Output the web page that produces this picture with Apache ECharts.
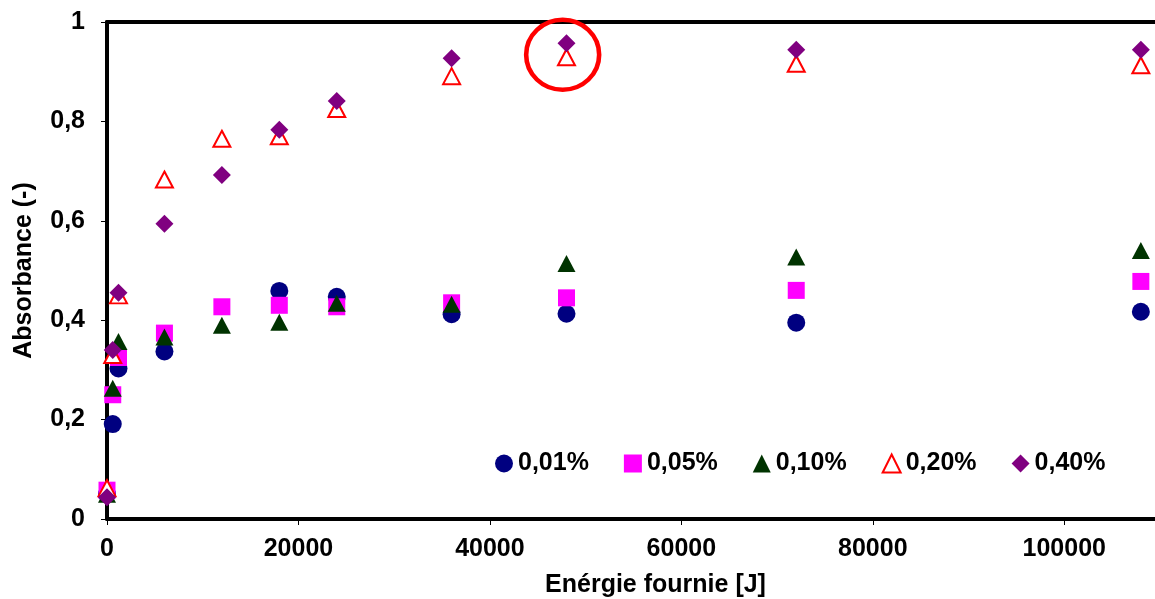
<!DOCTYPE html>
<html>
<head>
<meta charset="utf-8">
<script src="https://cdn.jsdelivr.net/npm/echarts@6/dist/echarts.min.js"></script>
<style>
html,body{margin:0;padding:0;background:#fff;}
#chart{width:1155px;height:599px;}
</style>
</head>
<body>
<div id="chart"></div>
<script>
// Data
const seriesNames = ['0,01%', '0,05%', '0,10%', '0,20%', '0,40%'];
const energy = [0, 600, 1200, 6000, 12000, 18000, 24000, 36000, 48000, 72000, 108000];
const abs001 = [0.05, 0.191, 0.303, 0.337, null, 0.459, 0.447, 0.412, 0.413, 0.395, 0.417];
const abs005 = [0.058, 0.25, 0.325, 0.374, 0.427, 0.43, 0.427, 0.435, 0.445, 0.46, 0.478];
const abs010 = [0.05, 0.263, 0.357, 0.366, 0.39, 0.396, 0.434, 0.432, 0.514, 0.527, 0.54];
const abs020 = [0.062, 0.33, 0.45, 0.683, 0.765, 0.77, 0.825, 0.891, 0.929, 0.916, 0.913];
const abs040 = [0.044, 0.34, 0.455, 0.594, 0.692, 0.783, 0.841, 0.927, 0.957, 0.944, 0.944];
const annotation = [[47600, 0.934]];
const xTickLabels = ['0', '20000', '40000', '60000', '80000', '100000'];
const yTickLabels = ['0', '0,2', '0,4', '0,6', '0,8', '1'];

const FONT = '"Liberation Sans", Arial, sans-serif';
function pairs(ys) {
  const out = [];
  for (let i = 0; i < energy.length; i++) if (ys[i] !== null) out.push([energy[i], ys[i]]);
  return out;
}
const styles = [
  {symbol: 'circle', size: 18, item: {color: '#000080', opacity: 1}},
  {symbol: 'rect', size: 17, item: {color: '#FF00FF', opacity: 1}},
  {symbol: 'triangle', size: [18, 17], item: {color: '#003300', opacity: 1}},
  {symbol: 'triangle', size: [17, 16], item: {color: '#ffffff', borderColor: '#FF0000', borderWidth: 2, opacity: 1}},
  {symbol: 'diamond', size: [18, 18], item: {color: '#800080', opacity: 1}}
];
const values = [abs001, abs005, abs010, abs020, abs040];
const series = seriesNames.map((n, i) => ({
  name: n,
  type: 'scatter',
  symbol: styles[i].symbol,
  symbolSize: styles[i].size,
  itemStyle: styles[i].item,
  data: pairs(values[i]),
  z: 2 + i,
  animation: false
}));
series.push({
  name: 'annotation',
  type: 'scatter',
  symbol: 'circle',
  symbolSize: [73, 70],
  itemStyle: {color: 'transparent', borderColor: '#FF0000', borderWidth: 4.5, opacity: 1},
  data: annotation,
  z: 10,
  silent: true,
  animation: false
});

const axisFont = {fontFamily: FONT, fontWeight: 'bold', fontSize: 25, color: '#000'};
const chart = echarts.init(document.getElementById('chart'), null, {renderer: 'canvas'});
chart.setOption({
  backgroundColor: '#ffffff',
  animation: false,
  grid: {left: 107, top: 22, width: 1053, height: 497, show: false, outerBoundsMode: 'none', containLabel: false},
  legend: {
    data: seriesNames,
    left: 490, top: 446,
    itemWidth: 18, itemHeight: 18, itemGap: 35,
    textStyle: axisFont
  },
  xAxis: [{
    type: 'value', min: 0, max: 110000, interval: 20000,
    name: 'Enérgie fournie [J]', nameLocation: 'middle', nameGap: 54,
    nameTextStyle: Object.assign({padding: [0, 0, 0, 44]}, axisFont),
    axisLine: {onZero: false, lineStyle: {color: '#000', width: 4}},
    axisTick: {show: true, inside: false, length: 6, lineStyle: {color: '#000', width: 1}},
    axisLabel: Object.assign({
      margin: 18,
      formatter: v => { const i = Math.round(v / 20000); return (v % 20000 === 0 && i < xTickLabels.length) ? xTickLabels[i] : ''; }
    }, axisFont),
    splitLine: {show: false}
  }, {
    type: 'value', position: 'top', min: 0, max: 110000,
    axisLine: {show: true, onZero: false, lineStyle: {color: '#000', width: 4}},
    axisTick: {show: false}, axisLabel: {show: false}, splitLine: {show: false}
  }],
  yAxis: {
    type: 'value', min: 0, max: 1, interval: 0.2,
    name: 'Absorbance (-)', nameLocation: 'middle', nameGap: 70, nameRotate: 90,
    nameTextStyle: axisFont,
    axisLine: {onZero: false, lineStyle: {color: '#000', width: 4}},
    axisTick: {show: true, inside: false, length: 6, lineStyle: {color: '#000', width: 1}},
    axisLabel: Object.assign({
      margin: 22,
      formatter: v => yTickLabels[Math.round(v / 0.2)]
    }, axisFont),
    splitLine: {show: false}
  },
  series: series
});
</script>
</body>
</html>
